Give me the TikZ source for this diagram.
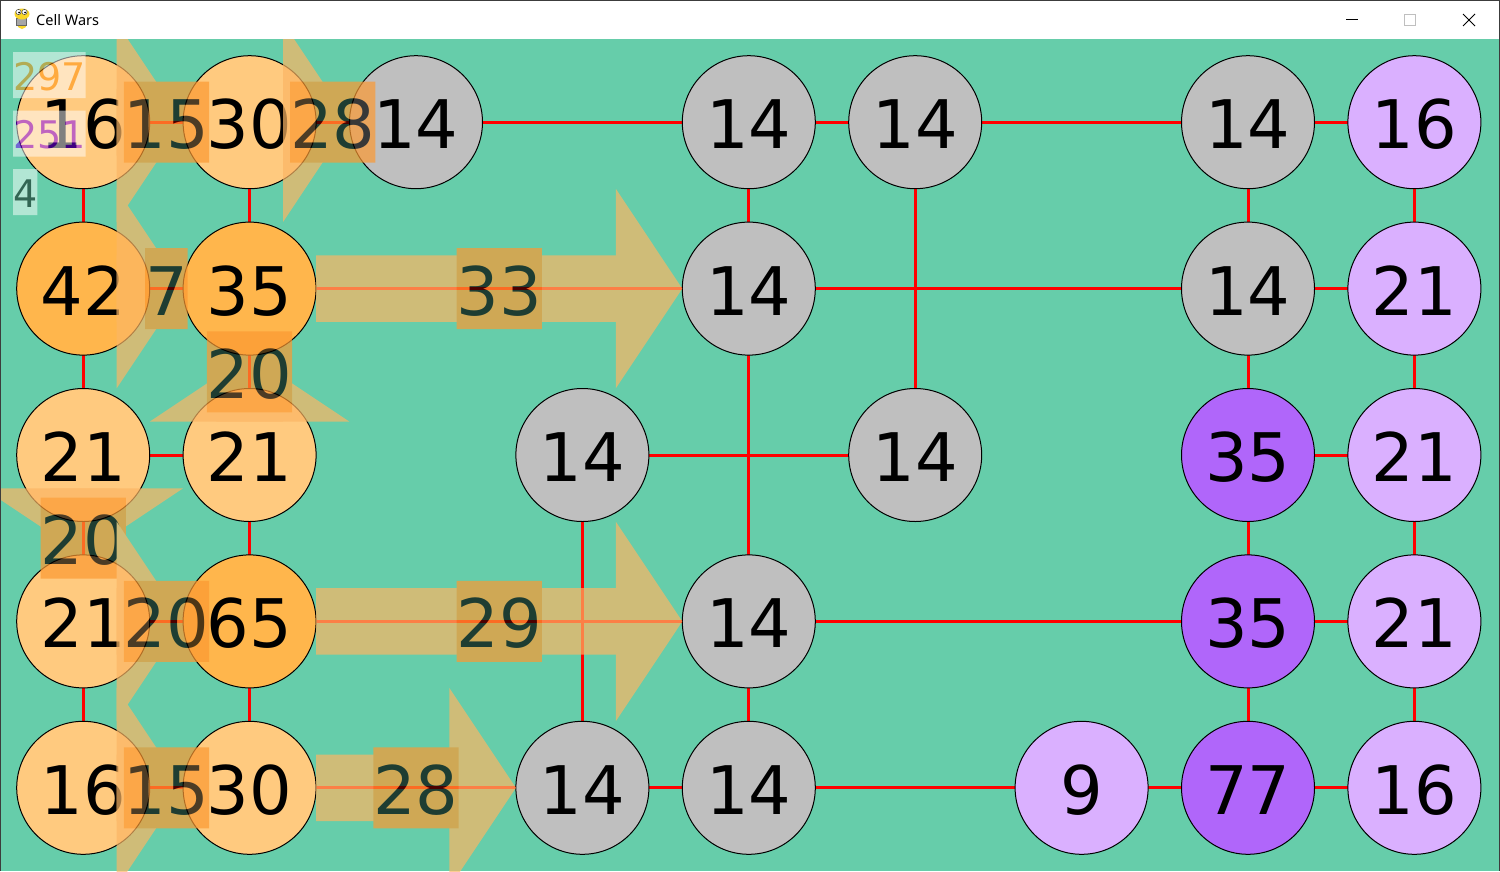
\documentclass[tikz,border=0pt]{standalone}
\usepackage{fontspec}
\setmainfont{DejaVu Sans}
\newfontfamily\uifont{Noto Sans}
\usetikzlibrary{calc}
\pgfdeclarelayer{bgl}
\pgfdeclarelayer{edgel}
\pgfsetlayers{bgl,edgel,main}
\definecolor{bgc}{RGB}{102,205,170}
\definecolor{grc}{RGB}{191,191,191}
\definecolor{loc}{RGB}{255,202,127}
\definecolor{doc}{RGB}{255,182,76}
\definecolor{puc}{RGB}{176,102,250}
\definecolor{lic}{RGB}{218,176,255}
\definecolor{flowc}{RGB}{252,182,100}
\definecolor{boxc}{RGB}{252,153,50}
\definecolor{pla}{RGB}{255,140,0}
\definecolor{plb}{RGB}{128,0,255}
\definecolor{frame}{RGB}{60,60,60}
\definecolor{icony}{RGB}{250,215,40}
\tikzset{
  cell/.style={circle, draw=black, line width=1pt, minimum size=133pt, inner sep=0pt,
    font=\fontsize{67}{80}\selectfont, text height=67pt, text depth=14pt},
  link/.style={draw=red, line width=3pt},
  flowlbl/.style={fill=boxc, inner sep=0pt, text height=67pt, text depth=14pt,
    font=\fontsize{67}{80}\selectfont, text=black},
  stat/.style={fill=white, inner sep=0pt, text height=38pt, text depth=8pt,
    font=\fontsize{38}{46}\selectfont, anchor=north west},
}
\newcommand\flow[4]{%
  \path ($(#1.center)!66.5pt!(#2.center)$) coordinate (#4s)
        ($(#2.center)!66.5pt!(#1.center)$) coordinate (#4t);
  \path ($(#4t)!66.5pt!(#4s)$) coordinate (#4h);
  \fill[flowc] ($(#4s)!33.3pt!90:(#4t)$) -- ($(#4h)!33.3pt!90:(#4t)$)
     -- ($(#4h)!33.3pt!-90:(#4t)$) -- ($(#4s)!33.3pt!-90:(#4t)$) -- cycle;
  \fill[flowc] ($(#4h)!99.8pt!90:(#4t)$) -- (#4t) -- ($(#4h)!99.8pt!-90:(#4t)$) -- cycle;
  \node[flowlbl] (#4l) at ($(#4s)!.5!(#4t)$) {#3};
}
\begin{document}
\begin{tikzpicture}[x=1pt, y=-1pt]
\useasboundingbox (0,0) rectangle (1500,871);
\begin{pgfonlayer}{bgl}
  \fill[bgc] (0,39) rectangle (1500,871);
\end{pgfonlayer}
% cells
\foreach \i/\j/\n/\c in {
  0/0/16/loc, 1/0/30/loc, 2/0/14/grc, 4/0/14/grc, 5/0/14/grc, 7/0/14/grc, 8/0/16/lic,
  0/1/42/doc, 1/1/35/doc, 4/1/14/grc, 7/1/14/grc, 8/1/21/lic,
  0/2/21/loc, 1/2/21/loc, 3/2/14/grc, 5/2/14/grc, 7/2/35/puc, 8/2/21/lic,
  0/3/21/loc, 1/3/65/doc, 4/3/14/grc, 7/3/35/puc, 8/3/21/lic,
  0/4/16/loc, 1/4/30/loc, 3/4/14/grc, 4/4/14/grc, 6/4/9/lic, 7/4/77/puc, 8/4/16/lic}
  \node[cell, fill=\c] (c\i\j) at ({83.2+166.4*\i},{122.2+166.4*\j}) {\n};
% links
\begin{pgfonlayer}{edgel}
\foreach \a/\b in {00/10, 10/20, 20/40, 40/50, 50/70, 70/80,
  01/11, 11/41, 41/71, 71/81,
  02/12, 32/52, 72/82,
  03/13, 13/43, 43/73, 73/83,
  04/14, 14/34, 34/44, 44/64, 64/74, 74/84,
  00/01, 10/11, 40/41, 50/52, 70/71, 80/81,
  01/02, 11/12, 41/43, 71/72, 81/82,
  02/03, 12/13, 32/34, 72/73, 82/83,
  03/04, 13/14, 43/44, 73/74, 83/84}
  \draw[link] (c\a.center) -- (c\b.center);
\end{pgfonlayer}
% flows
\begin{scope}
  \clip (0,39) rectangle (1500,871);
  \begin{scope}[transparency group, opacity=0.7]
    \flow{c00}{c10}{15}{fa}
    \flow{c10}{c20}{28}{fb}
    \flow{c01}{c11}{7}{fc}
    \flow{c11}{c41}{33}{fd}
    \flow{c12}{c11}{20}{fe}
    \flow{c02}{c03}{20}{ff}
    \flow{c03}{c13}{20}{fg}
    \flow{c13}{c43}{29}{fh}
    \flow{c04}{c14}{15}{fi}
    \flow{c14}{c34}{28}{fj}
  \end{scope}
\end{scope}
% stats
\begin{scope}[transparency group, opacity=0.5]
  \node[stat, text=pla] (s1) at (13,52) {297};
  \node[stat, text=plb] (s2) at (13,110.5) {251};
  \node[stat, text=black] (s3) at (13,169) {4};
\end{scope}
% title bar
\fill[white] (0,0) rectangle (1500,39);
\draw[frame, line width=1pt] (0.5,871) -- (0.5,0.5) -- (1499.5,0.5) -- (1499.5,871);
\node[anchor=base west, inner sep=0pt, font=\uifont\fontsize{14.5}{16}\selectfont] (title) at (36,25) {Cell Wars};
% icon
\fill[icony] (22,23) ellipse [x radius=5, y radius=6];
\fill[gray!70, draw=black!60, line width=0.5pt] (16,18) rectangle (26,25);
\fill[icony] (22,14) ellipse [x radius=7.5, y radius=5.5];
\fill[white, draw=black!70, line width=0.5pt] (18.5,12) circle [radius=2.6];
\fill[white, draw=black!70, line width=0.5pt] (24.5,12) circle [radius=2.6];
\fill[black] (19.2,12.5) circle [radius=1];
\fill[black] (25.2,12.5) circle [radius=1];
% window buttons
\draw[black, line width=1pt] (1346,19.5) -- (1358,19.5);
\draw[black!25, line width=1pt] (1404.5,14.5) rectangle (1415.5,25.5);
\draw[black, line width=1pt] (1463,14) -- (1475,26) (1463,26) -- (1475,14);
\end{tikzpicture}
\end{document}
